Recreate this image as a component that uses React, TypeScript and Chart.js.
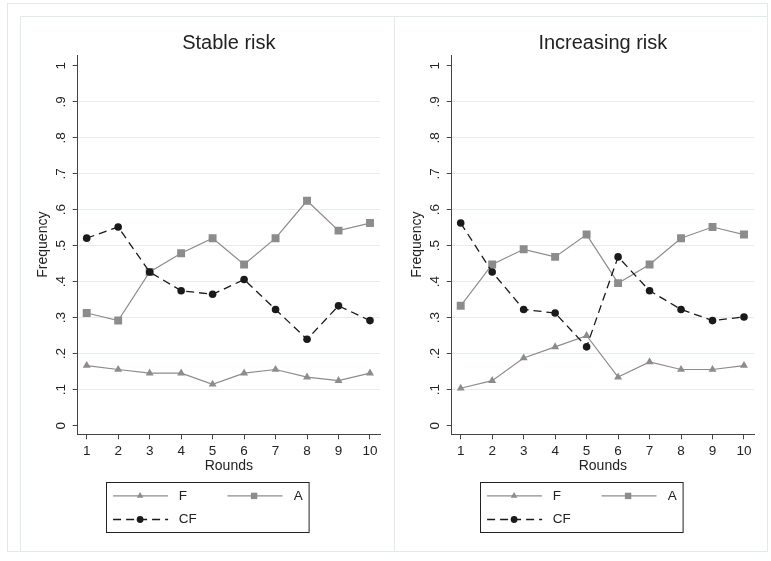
import React, { useEffect, useRef } from 'react';
import { Chart, registerables } from 'chart.js';

Chart.register(...registerables);

const ROUNDS = [1, 2, 3, 4, 5, 6, 7, 8, 9, 10];
const Y_TICKS = [0, 0.1, 0.2, 0.3, 0.4, 0.5, 0.6, 0.7, 0.8, 0.9, 1];
const Y_TICK_LABELS = ['0', '.1', '.2', '.3', '.4', '.5', '.6', '.7', '.8', '.9', '1'];
const SERIES_NAMES = ['F', 'A', 'CF'];
const PANEL_TITLES = ['Stable risk', 'Increasing risk'];
const X_TITLE = 'Rounds';
const Y_TITLE = 'Frequency';

const STABLE_F = [0.167, 0.156, 0.146, 0.146, 0.115, 0.146, 0.156, 0.135, 0.125, 0.146];
const STABLE_A = [0.313, 0.292, 0.427, 0.479, 0.521, 0.448, 0.521, 0.625, 0.542, 0.563];
const STABLE_CF = [0.521, 0.552, 0.427, 0.375, 0.365, 0.406, 0.323, 0.24, 0.333, 0.292];

const INCREASING_F = [0.104, 0.125, 0.188, 0.219, 0.25, 0.135, 0.177, 0.156, 0.156, 0.167];
const INCREASING_A = [0.333, 0.448, 0.49, 0.469, 0.531, 0.396, 0.448, 0.521, 0.552, 0.531];
const INCREASING_CF = [0.563, 0.427, 0.323, 0.313, 0.219, 0.469, 0.375, 0.323, 0.292, 0.302];

const FONT = '"Liberation Sans", Arial, Helvetica, sans-serif';
const GRAY = '#8c8c8c';
const BLACK = '#1a1a1a';
const TEXT = '#222222';
const AXIS = '#444444';
const GRID = '#e3eded';
const FRAME = '#e0eaea';

const CW = 375;
const CH = 535;

function drawTriangle(ctx: CanvasRenderingContext2D, x: number, y: number, r: number) {
  const h = r * 1.5;
  const w = r * Math.sqrt(3) / 2 * 2;
  ctx.beginPath();
  ctx.moveTo(x, y - r);
  ctx.lineTo(x + w / 2, y - r + h);
  ctx.lineTo(x - w / 2, y - r + h);
  ctx.closePath();
  ctx.fill();
}

const decorPlugin = {
  id: 'decor',
  afterDraw(chart: any) {
    const ctx: CanvasRenderingContext2D = chart.ctx;
    const ca = chart.chartArea;
    const title = chart.options.plugins.decor.title;
    ctx.save();
    // panel title centered over plot
    ctx.fillStyle = TEXT;
    ctx.font = `20px ${FONT}`;
    ctx.textAlign = 'center';
    ctx.textBaseline = 'middle';
    ctx.fillText(title, (ca.left + ca.right) / 2, 27.5);

    // legend box
    const bw = 202.6;
    const bh = 50;
    const L = Math.round((chart.width - bw) / 2) + 0.5;
    const T = 466.5;
    ctx.strokeStyle = '#222';
    ctx.lineWidth = 1;
    ctx.strokeRect(L, T, bw, bh);

    const r1 = T + 13.4;
    const r2 = T + 37;
    ctx.font = `13.5px ${FONT}`;
    ctx.textAlign = 'left';
    ctx.textBaseline = 'middle';

    // F
    ctx.strokeStyle = GRAY;
    ctx.fillStyle = GRAY;
    ctx.lineWidth = 1.2;
    ctx.beginPath();
    ctx.moveTo(L + 6.6, r1);
    ctx.lineTo(L + 61.6, r1);
    ctx.stroke();
    drawTriangle(ctx, L + 33.6, r1, 3.8);
    // A
    ctx.beginPath();
    ctx.moveTo(L + 121, r1);
    ctx.lineTo(L + 176, r1);
    ctx.stroke();
    ctx.fillRect(L + 147.6 - 3.2, r1 - 3.2, 6.4, 6.4);
    // CF
    ctx.strokeStyle = BLACK;
    ctx.fillStyle = BLACK;
    ctx.lineWidth = 1.3;
    ctx.setLineDash([8, 5]);
    ctx.beginPath();
    ctx.moveTo(L + 6.6, r2);
    ctx.lineTo(L + 61.6, r2);
    ctx.stroke();
    ctx.setLineDash([]);
    ctx.beginPath();
    ctx.arc(L + 33.6, r2, 3.4, 0, Math.PI * 2);
    ctx.fill();

    ctx.fillStyle = TEXT;
    ctx.fillText(SERIES_NAMES[0], L + 72.3, r1);
    ctx.fillText(SERIES_NAMES[1], L + 187.3, r1);
    ctx.fillText(SERIES_NAMES[2], L + 72.3, r2);
    ctx.restore();
  },
};

function toPoints(vals: number[]) {
  return ROUNDS.map((r, i) => ({ x: r, y: vals[i] }));
}

function Panel(props: { left: number; title: string; f: number[]; a: number[]; cf: number[] }) {
  const ref = useRef<HTMLCanvasElement>(null);
  useEffect(() => {
    const chart = new Chart(ref.current as HTMLCanvasElement, {
      type: 'line',
      data: {
        datasets: [
          {
            label: SERIES_NAMES[2],
            data: toPoints(props.cf),
            borderColor: BLACK,
            backgroundColor: BLACK,
            borderWidth: 1.3,
            borderDash: [8, 5],
            pointStyle: 'circle',
            pointRadius: 3.8,
            pointBorderWidth: 0,
            pointBackgroundColor: BLACK,
            fill: false,
            tension: 0,
          },
          {
            label: SERIES_NAMES[1],
            data: toPoints(props.a),
            borderColor: GRAY,
            backgroundColor: GRAY,
            borderWidth: 1.2,
            pointStyle: 'rect',
            pointRadius: 5.6,
            pointBorderWidth: 0,
            pointBackgroundColor: GRAY,
            fill: false,
            tension: 0,
          },
          {
            label: SERIES_NAMES[0],
            data: toPoints(props.f),
            borderColor: GRAY,
            backgroundColor: GRAY,
            borderWidth: 1.2,
            pointStyle: 'triangle',
            pointRadius: 4.6,
            pointBorderWidth: 0,
            pointBackgroundColor: GRAY,
            fill: false,
            tension: 0,
          },
        ],
      },
      options: {
        responsive: false,
        animation: false,
        devicePixelRatio: 1,
        layout: { padding: { top: 39, bottom: 76.7, left: 0, right: 15 } },
        plugins: {
          legend: { display: false },
          tooltip: { enabled: false },
          title: { display: false },
          decor: { title: props.title },
        } as any,
        scales: {
          x: {
            type: 'linear',
            min: 0.714,
            max: 10.318,
            afterBuildTicks: (s: any) => {
              s.ticks = ROUNDS.map((v) => ({ value: v }));
            },
            afterFit: (s: any) => {
              s.height = 40;
            },
            ticks: {
              callback: (_v: any, i: number) => String(ROUNDS[i]),
              font: { family: FONT, size: 13.5 },
              color: TEXT,
              padding: 4,
              autoSkip: false,
              maxRotation: 0,
              minRotation: 0,
            },
            grid: {
              drawOnChartArea: false,
              drawTicks: true,
              tickLength: 5,
              tickColor: AXIS,
              lineWidth: 1,
            },
            border: { display: true, color: AXIS, width: 1 },
            title: {
              display: true,
              text: X_TITLE,
              font: { family: FONT, size: 14 },
              color: TEXT,
              padding: { top: 0, bottom: 0 },
            },
          },
          y: {
            type: 'linear',
            min: -0.024,
            max: 1.03,
            afterBuildTicks: (s: any) => {
              s.ticks = Y_TICKS.map((v) => ({ value: v }));
            },
            afterFit: (s: any) => {
              s.width = 57.7;
            },
            ticks: {
              callback: (_v: any, i: number) => Y_TICK_LABELS[i],
              font: { family: FONT, size: 13.5 },
              color: TEXT,
              padding: 5.4,
              autoSkip: false,
              minRotation: 90,
              maxRotation: 90,
              crossAlign: 'center',
            },
            grid: {
              color: (ctx: any) =>
                ctx.tick && (ctx.tick.value === 0 || ctx.tick.value === 1) ? 'rgba(0,0,0,0)' : GRID,
              lineWidth: 1,
              tickLength: 5,
              tickColor: AXIS,
            },
            border: { display: true, color: AXIS, width: 1 },
            title: {
              display: true,
              text: Y_TITLE,
              font: { family: FONT, size: 14 },
              color: TEXT,
              padding: { top: 14.6, bottom: 0 },
            },
          },
        },
      } as any,
      plugins: [decorPlugin],
    });
    return () => chart.destroy();
  }, []);
  return (
    <canvas
      ref={ref}
      width={CW}
      height={CH}
      style={{ position: 'absolute', left: props.left, top: 16, width: CW, height: CH }}
    />
  );
}

function Line(p: { l: number; t: number; w: number; h: number }) {
  return <div style={{ position: 'absolute', left: p.l, top: p.t, width: p.w, height: p.h, background: FRAME }} />;
}

export default function App() {
  return (
    <div style={{ position: 'absolute', left: 0, top: 0, width: 771, height: 561, background: '#fff', overflow: 'hidden' }}>
      <Line l={7} t={3} w={761} h={1} />
      <Line l={7} t={3} w={1} h={549} />
      <Line l={20} t={16} w={748} h={1} />
      <Line l={20} t={16} w={1} h={536} />
      <Line l={394} t={16} w={1} h={536} />
      <Line l={767} t={3} w={1} h={549} />
      <Line l={7} t={551} w={761} h={1} />
      <Panel left={20} title={PANEL_TITLES[0]} f={STABLE_F} a={STABLE_A} cf={STABLE_CF} />
      <Panel left={394} title={PANEL_TITLES[1]} f={INCREASING_F} a={INCREASING_A} cf={INCREASING_CF} />
    </div>
  );
}
